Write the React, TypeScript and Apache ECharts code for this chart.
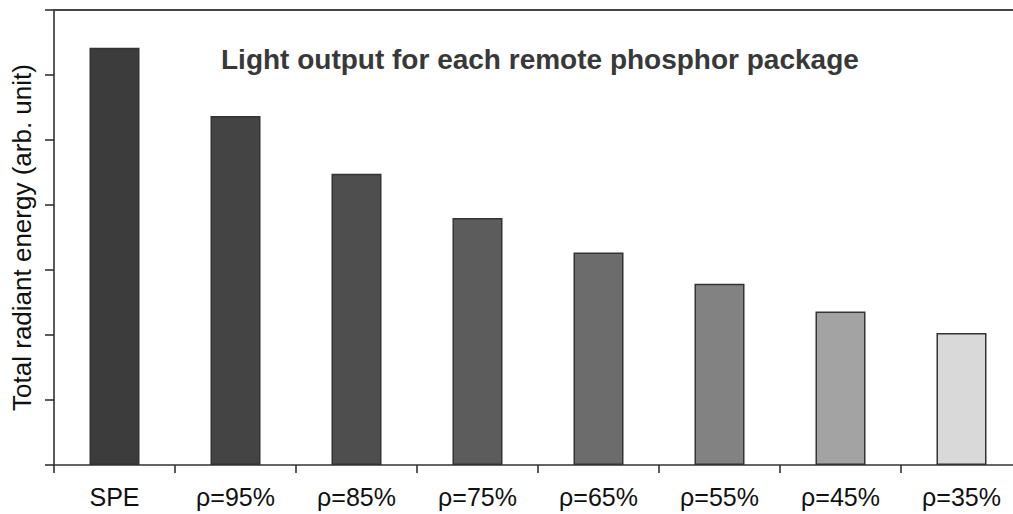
import React, { useEffect, useRef } from "react";
import * as echarts from "echarts";

const categories = ["SPE", "ρ=95%", "ρ=85%", "ρ=75%", "ρ=65%", "ρ=55%", "ρ=45%", "ρ=35%"];
const values = [6.42, 5.37, 4.48, 3.8, 3.27, 2.79, 2.36, 2.03];
const barColors = ["#3c3c3c", "#444444", "#4e4e4e", "#5c5c5c", "#6c6c6c", "#828282", "#a3a3a3", "#d9d9d9"];
const yTicks = { min: 0, max: 7, interval: 1 };
const titleText = "Light output for each remote phosphor package";
const yName = "Total radiant energy (arb. unit)";

export default function App() {
  const ref = useRef<HTMLDivElement>(null);
  useEffect(() => {
    if (!ref.current) return;
    document.body.style.overflow = "hidden";
    const chart = echarts.init(ref.current, null, { renderer: "svg" });
    chart.setOption({
      animation: false,
      backgroundColor: "#ffffff",
      title: {
        text: titleText,
        left: 216,
        top: 40,
        textStyle: { fontFamily: "Liberation Sans, Arial, sans-serif", fontSize: 28, fontWeight: "bold", color: "#383838" },
      },
      grid: { left: 54, top: 10, bottom: 49, right: 0, containLabel: false },
      xAxis: [
        {
          type: "category",
          data: categories,
          axisLine: { lineStyle: { color: "#333333", width: 1.6 } },
          axisTick: { show: true, length: 8, lineStyle: { color: "#333333", width: 1.6 } },
          axisLabel: {
            margin: 19,
            fontFamily: "Liberation Sans, Arial, sans-serif",
            fontSize: 25,
            color: "#111111",
          },
        },
        {
          type: "category",
          position: "top",
          data: categories,
          axisLine: { show: true, lineStyle: { color: "#444444", width: 2 } },
          axisTick: { show: false },
          axisLabel: { show: false },
        },
      ],
      yAxis: {
        type: "value",
        min: yTicks.min,
        max: yTicks.max,
        interval: yTicks.interval,
        name: yName,
        nameLocation: "middle",
        nameGap: 19,
        nameTextStyle: { fontFamily: "Liberation Sans, Arial, sans-serif", fontSize: 26, color: "#111111" },
        axisLine: { show: true, lineStyle: { color: "#333333", width: 1.6 } },
        axisTick: { show: true, length: 9, lineStyle: { color: "#333333", width: 1.6 } },
        axisLabel: { show: false },
        splitLine: { show: false },
      },
      series: [
        {
          type: "bar",
          xAxisIndex: 0,
          barWidth: 50,
          data: values.map((v, i) => ({
            value: v,
            itemStyle: { color: barColors[i], borderColor: "#333333", borderWidth: 1.5 },
          })),
        },
      ],
    });
    return () => chart.dispose();
  }, []);
  return (
    <div
      ref={ref}
      style={{ position: "fixed", left: 0, top: 0, width: 1022, height: 514, background: "#fff" }}
    />
  );
}
